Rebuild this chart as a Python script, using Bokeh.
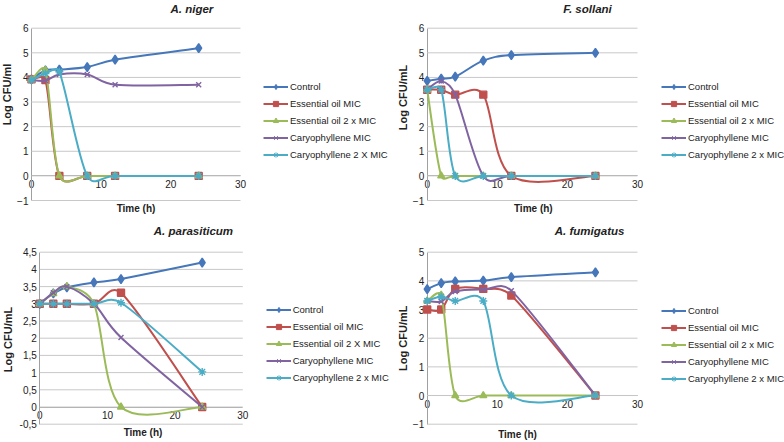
import math
from bokeh.plotting import figure
from bokeh.models import (Legend, LegendItem, FixedTicker, Range1d,
                          ColumnDataSource, Label)
from bokeh.layouts import gridplot
from bokeh.embed import file_html
from bokeh.resources import INLINE

# ---------------- data ----------------
time_h = [0, 2, 4, 8, 12, 24]
x_ticks = [0, 10, 20, 30]

niger_control = [3.92, 4.29, 4.32, 4.42, 4.72, 5.19]
niger_eo_mic = [3.92, 3.89, 0, 0, 0, 0]
niger_eo_2x = [3.90, 4.29, 0, 0, 0, 0]
niger_car_mic = [3.90, 3.87, 4.12, 4.12, 3.70, 3.70]
niger_car_2x = [3.90, 4.16, 4.23, 0, 0, 0]

sollani_control = [3.86, 3.95, 4.03, 4.68, 4.91, 5.00]
sollani_eo_mic = [3.50, 3.50, 3.30, 3.30, 0, 0]
sollani_eo_2x = [3.50, 0, 0, 0, 0, 0]
sollani_car_mic = [3.50, 3.85, 3.30, 0, 0, 0]
sollani_car_2x = [3.50, 3.50, 0, 0, 0, 0]

paras_control = [3.00, 3.30, 3.48, 3.62, 3.72, 4.20]
paras_eo_mic = [3.00, 3.00, 3.00, 3.00, 3.32, 0]
paras_eo_2x = [3.00, 3.30, 3.50, 3.00, 0, 0]
paras_car_mic = [3.00, 3.32, 3.50, 3.00, 2.02, 0]
paras_car_2x = [3.00, 3.00, 3.00, 3.00, 3.03, 1.02]

fumi_control = [3.71, 3.92, 3.98, 4.01, 4.13, 4.30]
fumi_eo_mic = [3.00, 3.00, 3.72, 3.72, 3.49, 0]
fumi_eo_2x = [3.30, 3.50, 0, 0, 0, 0]
fumi_car_mic = [3.30, 3.28, 3.63, 3.70, 3.66, 0]
fumi_car_2x = [3.30, 3.45, 3.30, 3.30, 0, 0]

labels_niger = ["Control", "Essential oil MIC", "Essential oil 2 x MIC",
                "Caryophyllene MIC", "Caryophyllene 2 X MIC"]
labels_sollani = ["Control", "Essential oil MIC", "Essential oil 2 x MIC",
                  "Caryophyllene MIC", "Caryophyllene 2 x MIC"]
labels_paras = ["Control", "Essential oil MIC", "Essential oil 2 X MIC",
                "Caryophyllene MIC", "Caryophyllene 2 x MIC"]
labels_fumi = ["Control", "Essential oil MIC", "Essential oil 2 x MIC",
               "Caryophyllene MIC", "Caryophyllene 2 x MIC"]

yticks_a = [-1, 0, 1, 2, 3, 4, 5, 6]
yticks_p = [-0.5, 0, 0.5, 1, 1.5, 2, 2.5, 3, 3.5, 4, 4.5]
yticks_f = [-1, 0, 1, 2, 3, 4, 5]

# ---------------- style ----------------
W, H = 392, 221
COLORS = ["#4677BA", "#C0504D", "#9BBB59", "#8064A2", "#4BACC6"]
MARKERS = ["diamond", "square", "triangle", "x", "asterisk"]
SIZES = [9, 7, 7, 7, 8]
LEG_SIZES = [6, 5, 5, 5, 5]
FONT = "Liberation Sans"
GRID = "#C8C8C8"
AXIS = "#A0A0A0"
TXT = "#222222"


def smooth(xs, ys, kx, ky):
    """Excel-like smoothed line: Bezier segments, control points computed in pixel space."""
    P = [(x * kx, y * ky) for x, y in zip(xs, ys)]
    n = len(P)
    d = dict(x0=[], y0=[], x1=[], y1=[], cx0=[], cy0=[], cx1=[], cy1=[])

    def dist(a, b):
        return math.hypot(a[0] - b[0], a[1] - b[1])

    for i in range(n - 1):
        p0, p1, p2, p3 = P[max(i - 1, 0)], P[i], P[i + 1], P[min(i + 2, n - 1)]
        d12 = dist(p1, p2)
        d02 = dist(p0, p2)
        d13 = dist(p1, p3)
        s1 = 0 if d02 == 0 else (1 / 6.0 if d02 / 6.0 <= d12 / 2.0 else d12 / (2.0 * d02))
        s2 = 0 if d13 == 0 else (1 / 6.0 if d13 / 6.0 <= d12 / 2.0 else d12 / (2.0 * d13))
        c1 = (p1[0] + s1 * (p2[0] - p0[0]), p1[1] + s1 * (p2[1] - p0[1]))
        c2 = (p2[0] - s2 * (p3[0] - p1[0]), p2[1] - s2 * (p3[1] - p1[1]))
        d["x0"].append(xs[i]); d["y0"].append(ys[i])
        d["x1"].append(xs[i + 1]); d["y1"].append(ys[i + 1])
        d["cx0"].append(c1[0] / kx); d["cy0"].append(c1[1] / ky)
        d["cx1"].append(c2[0] / kx); d["cy1"].append(c2[1] / ky)
    return d


def text_label(p, text, x, y, size, style, align="center", angle=0):
    p.add_layout(Label(x=x, y=H - y, x_units="screen", y_units="screen", text=text,
                       text_font=FONT, text_font_size=size, text_font_style=style,
                       text_color=TXT, text_align=align, text_baseline="middle",
                       angle=angle, angle_units="deg"))


def panel(g, title, ylabel, series, labels, yticks, comma):
    y0, y1 = yticks[0], yticks[-1]
    kx = (g["X30"] - g["X0"]) / (x_ticks[-1] - x_ticks[0])
    ky = (g["Ybot"] - g["Ytop"]) / (y1 - y0)
    p = figure(width=W, height=H, title=None,
               x_range=Range1d(-g["X0"] / kx, (W - g["X0"]) / kx),
               y_range=Range1d(y0 - (H - g["Ybot"]) / ky, y1 + g["Ytop"] / ky),
               output_backend="svg", toolbar_location=None,
               min_border=0, min_border_left=0, min_border_right=0,
               min_border_top=0, min_border_bottom=0,
               outline_line_color=None, background_fill_color="white",
               border_fill_color="white")
    p.xgrid.visible = False
    p.ygrid.visible = False

    # horizontal gridlines spanning the x-axis extent
    p.segment(x0=x_ticks[0], x1=x_ticks[-1], y0=yticks, y1=yticks,
              line_color=GRID, line_width=1)

    yax = p.yaxis[0]
    yax.ticker = FixedTicker(ticks=yticks)
    yax.fixed_location = 0
    yax.bounds = (y0, y1)
    yax.major_label_text_font = FONT
    yax.major_label_text_font_size = "10px"
    yax.major_label_text_color = TXT
    yax.major_label_standoff = 3
    yax.axis_line_color = AXIS
    yax.major_tick_out = 0
    yax.major_tick_in = 0
    yax.minor_tick_out = 0
    yax.minor_tick_in = 0
    yax.level = "underlay"
    if comma:
        yax.major_label_overrides = {t: ("%g" % t).replace(".", ",") for t in yticks}

    xax = p.xaxis[0]
    xax.ticker = FixedTicker(ticks=x_ticks)
    xax.fixed_location = 0
    xax.bounds = (x_ticks[0], x_ticks[-1])
    xax.axis_line_color = AXIS
    xax.major_tick_out = 0
    xax.major_tick_in = 0
    xax.minor_tick_out = 0
    xax.minor_tick_in = 0
    xax.major_label_text_font = FONT
    xax.major_label_text_font_size = "10px"
    xax.major_label_text_color = TXT
    xax.major_label_standoff = 4
    xax.level = "underlay"

    items = []
    for vals, name, c, m, s, ls in zip(series, labels, COLORS, MARKERS, SIZES, LEG_SIZES):
        p.bezier(x0="x0", y0="y0", x1="x1", y1="y1", cx0="cx0", cy0="cy0",
                 cx1="cx1", cy1="cy1",
                 source=ColumnDataSource(smooth(time_h, vals, kx, ky)),
                 line_color=c, line_width=2)
        p.scatter(time_h, vals, marker=m, size=s, fill_color=c,
                  line_color=c, line_width=1.4)
        # legend proxies (zero-length line and small marker hidden under the first marker)
        rl = p.line(x=[time_h[0], time_h[0]], y=[vals[0], vals[0]],
                    line_color=c, line_width=2)
        rs = p.scatter(x=[time_h[0]], y=[vals[0]], marker=m, size=ls,
                       fill_color=c, line_color=c, line_width=1)
        items.append(LegendItem(label=name, renderers=[rl, rs]))

    leg_top = g["leg_y"] - 6.5
    leg_h = 5 * 13 + 4 * 4
    leg = Legend(items=items, location=(g["leg_x"], H - (leg_top + leg_h)),
                 padding=0, margin=0, spacing=4, glyph_width=25, glyph_height=13,
                 label_height=13, label_standoff=2, label_text_font=FONT,
                 label_text_font_size="9.5px", label_text_color=TXT,
                 border_line_color=None, background_fill_alpha=0)
    p.add_layout(leg)

    text_label(p, title, g["tx"], g["ty"], "11.5px", "bold italic", align="left")
    text_label(p, ylabel, g["lx"], g["ly"], "11px", "bold", angle=90)
    text_label(p, "Time (h)", g["hx"], g["hy"], "10px", "bold")
    return p


g1 = dict(X0=31, X30=240, Ytop=27.7, Ybot=200, tx=170, ty=8, lx=6.5, ly=94,
          hx=135.5, hy=208, leg_x=263, leg_y=86)
g2 = dict(X0=34.7, X30=245, Ytop=27.7, Ybot=200, tx=170.7, ty=8, lx=10, ly=97,
          hx=140.8, hy=208, leg_x=269, leg_y=86)
g3 = dict(X0=39.3, X30=242.3, Ytop=30.7, Ybot=202.7, tx=153.3, ty=9.5, lx=7.5, ly=118,
          hx=142.5, hy=210.5, leg_x=265.7, leg_y=88.7)
g4 = dict(X0=34.7, X30=245, Ytop=30.7, Ybot=202.7, tx=162.3, ty=9.5, lx=10.3, ly=116.7,
          hx=125, hy=212.5, leg_x=269, leg_y=89)

f1 = panel(g1, "A. niger", "Log CFU/ml",
           [niger_control, niger_eo_mic, niger_eo_2x, niger_car_mic, niger_car_2x],
           labels_niger, yticks_a, False)
f2 = panel(g2, "F. sollani", "Log CFU/mL",
           [sollani_control, sollani_eo_mic, sollani_eo_2x, sollani_car_mic, sollani_car_2x],
           labels_sollani, yticks_a, False)
f3 = panel(g3, "A. parasiticum", "Log CFU/mL",
           [paras_control, paras_eo_mic, paras_eo_2x, paras_car_mic, paras_car_2x],
           labels_paras, yticks_p, True)
f4 = panel(g4, "A. fumigatus", "Log CFU/mL",
           [fumi_control, fumi_eo_mic, fumi_eo_2x, fumi_car_mic, fumi_car_2x],
           labels_fumi, yticks_f, False)

grid = gridplot([[f1, f2], [f3, f4]], toolbar_location=None)
open("out.html", "w").write(file_html(grid, INLINE))
